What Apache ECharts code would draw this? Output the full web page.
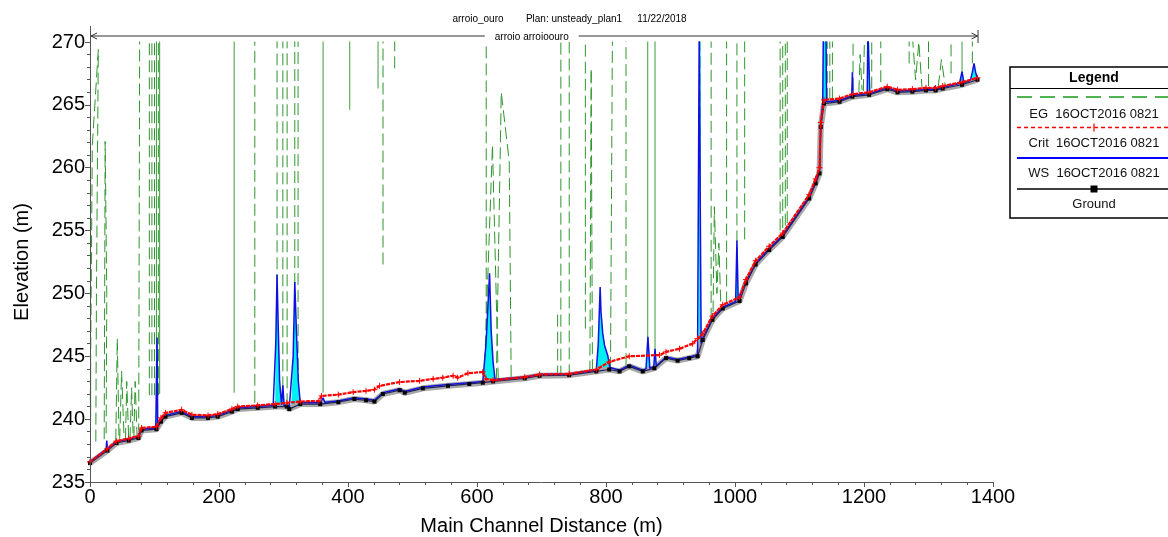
<!DOCTYPE html>
<html><head><meta charset="utf-8">
<script src="https://cdn.jsdelivr.net/npm/echarts@6/dist/echarts.min.js"></script>
<style>html,body{margin:0;padding:0;background:#fff}#c{width:1168px;height:537px}</style>
</head><body><div id="c"></div>
<script>
// ---------- data (distance m, elevation m) ----------
const titleParts = ['arroio_ouro', 'Plan: unsteady_plan1', '11/22/2018'];
const reachLabel = 'arroio arroioouro';
const reachExtent = [0, 1376];
const legendLabels = ['EG  16OCT2016 0821', 'Crit  16OCT2016 0821', 'WS  16OCT2016 0821', 'Ground'];

const ground = [[0,236.5],[27,237.5],[41,238.1],[60,238.3],[75,238.5],[80,239.1],[103,239.2],[110,239.8],[117,240.2],[142,240.5],[158,240.1],[183,240.1],[198,240.2],[220,240.6],[229,240.8],[260,240.9],[287,241.0],[305,241.0],[309,240.8],[326,241.2],[357,241.2],[385,241.35],[410,241.6],[428,241.5],[441,241.4],[454,242.0],[480,242.3],[488,242.1],[516,242.45],[555,242.65],[588,242.8],[609,242.9],[625,243.0],[674,243.25],[697,243.45],[743,243.5],[785,243.8],[805,243.95],[821,243.8],[836,244.2],[857,243.8],[875,244.05],[893,244.85],[911,244.65],[929,244.85],[942,245.0],[950,246.3],[965,247.9],[981,248.8],[1007,249.4],[1017,250.8],[1032,252.3],[1053,253.45],[1074,254.5],[1115,257.55],[1125,258.75],[1131,259.55],[1133,263.25],[1138,265.1],[1162,265.25],[1182,265.65],[1208,265.8],[1236,266.25],[1252,266.0],[1275,266.05],[1296,266.15],[1311,266.15],[1322,266.3],[1352,266.6],[1376,267.0]];

const ws = [[0,236.6],[25,237.6],[26,238.3],[27,237.65],[41,238.2],[60,238.4],[75,238.6],[80,239.2],[102,239.3],[104,246.5],[105,239.4],[110,239.9],[117,240.3],[142,240.6],[158,240.2],[183,240.2],[198,240.3],[220,240.7],[229,240.9],[260,241.0],[284,241.1],[287,241.1],[288,246],[290,251.5],[292,247],[294,243],[297,241.1],[299,242.7],[301,241.05],[305,241.1],[309,240.95],[312,241.05],[315,245],[317.5,250.9],[320,247],[323,243],[326,241.3],[328,241.3],[357,241.3],[359,241.35],[361.4,241.7],[364,241.35],[385,241.45],[410,241.7],[428,241.6],[441,241.5],[454,242.1],[480,242.4],[488,242.2],[516,242.55],[555,242.75],[588,242.9],[609,243.0],[610,243.0],[614,246],[619.5,251.6],[622,247],[625,244.5],[628,243.15],[674,243.35],[697,243.55],[743,243.6],[785,243.9],[788,246],[790.9,250.5],[792.3,248.5],[795,246.8],[797.6,245.9],[803,245.0],[806,244.1],[821,243.9],[836,244.3],[857,243.9],[862,244.0],[865,246.55],[868,244.05],[874,244.15],[876,245.6],[878,244.2],[893,244.95],[911,244.75],[929,244.95],[942,245.1],[943.5,245.15],[944.5,271],[946.5,271],[947.5,246.0],[950,246.4],[965,248.0],[981,248.9],[1001,249.35],[1003,254.2],[1005,249.45],[1007,249.5],[1017,250.9],[1032,252.4],[1053,253.55],[1074,254.6],[1115,257.65],[1125,258.85],[1131,259.65],[1133,263.35],[1136,265.2],[1137,271],[1141,271],[1142,265.25],[1162,265.35],[1181,265.7],[1182,267.6],[1183,265.75],[1205,265.9],[1206,271],[1208,271],[1209,265.9],[1236,266.35],[1252,266.1],[1275,266.15],[1296,266.25],[1308,266.25],[1310,266.5],[1312,266.25],[1322,266.4],[1348,266.7],[1352,267.65],[1355,266.75],[1365,266.95],[1368,267.6],[1370.6,268.3],[1373,267.6],[1376,267.1]];

const crit = [[0,236.6],[27,237.65],[41,238.25],[60,238.45],[75,238.65],[80,239.3],[103,239.4],[110,240.1],[117,240.5],[142,240.75],[158,240.35],[183,240.3],[198,240.4],[220,240.8],[229,241.0],[260,241.1],[287,241.2],[305,241.3],[326,241.4],[355,241.45],[359,241.85],[385,241.95],[408,242.15],[428,242.25],[441,242.35],[449,242.65],[480,242.95],[511,243.05],[532,243.2],[547,243.3],[563,243.45],[570,243.3],[586,243.65],[609,243.75],[614,243.2],[625,243.1],[674,243.35],[697,243.55],[743,243.6],[785,243.95],[805,244.55],[836,245.0],[883,245.1],[893,245.35],[914,245.6],[934,246.0],[942,246.4],[950,246.8],[965,248.2],[981,249.1],[1007,249.7],[1017,251.1],[1032,252.6],[1053,253.75],[1074,254.8],[1115,257.85],[1125,259.1],[1131,260.0],[1133,263.6],[1138,265.4],[1162,265.5],[1182,265.85],[1208,266.0],[1236,266.45],[1252,266.2],[1275,266.25],[1296,266.35],[1311,266.35],[1322,266.5],[1352,266.8],[1376,267.15]];

// EG traces (energy grade line excursions), dashed
const egDashed = [
 [[0.5,241.5],[3.6,261.8],[12.9,269.4],[10,250],[9,238.0]],
 [[22,238.4],[23.5,262.1],[26,249.9],[25,238.6]],
 [[40,238.3],[42.3,246.4],[45,238.3]],
 [[46,238.3],[49,243.8],[53,238.3]],
 [[55,238.35],[57,243.0],[60,238.4]],
 [[62,238.4],[64.6,242.5],[67,238.45]],
 [[68,238.5],[70,243.0],[73,238.55]],
 [[75.5,238.7],[77,271]],
 [[92,241.9],[92,271]],[[96,241.9],[96,271]],[[100,241.9],[100,271]],[[106,241.9],[106,271]],
 [[255.5,241.3],[255.5,271]],
 [[290,241.1],[290,271]],[[299,241.1],[299,271]],[[305.6,241.1],[305.6,271]],[[317.5,241.2],[317.5,271]],[[322.6,241.2],[322.6,271]],
 [[454.3,252.3],[454.3,271]],[[472.4,267.9],[472.4,271]],
 [[614.3,243],[614.3,271]],[[611,243.0],[624,261.8],[633,243.1]],[[630,243.1],[637.6,266],[650,260.5],[653,243.2]],
 [[725,243.3],[725,248.5]],[[730,243.3],[730,271]],[[743,243.4],[743,271]],[[768,247.2],[768,271]],[[775,243.7],[777,267.9],[779,243.7]],
 [[807,244],[810,271]],[[831,244.3],[831,271]],
 [[945.8,246.3],[945.8,271]],[[963,247.9],[963,271]],[[966,248.5],[968,256.9],[972,250],[975,254],[978,249]],[[987,249.2],[987,271]],[[1003,250],[1003,271]],[[1015,254.3],[1015,271]],
 [[1070,255],[1070,271]],[[1074,255.2],[1074,271]],[[1078,255.4],[1078,271]],[[1081,255.6],[1081,271]],
 [[1138,265.4],[1138,271]],[[1143,265.4],[1143,271]],[[1147,265.4],[1147,271]],[[1151,265.5],[1151,271]],
 [[1183,266.2],[1183,271]],
 [[1192,266],[1194,269],[1197,266.2]],[[1199,266.1],[1201,271]],[[1212,266.3],[1212,271]],
 [[1226,266.8],[1226,271]],
 [[1270,268.3],[1270,271]],[[1275,270.5],[1280,267],[1285,270],[1290,266.3]],
 [[1300,266.5],[1300,271]],[[1315,266.4],[1320,268.6],[1326,266.5]],[[1335,267.5],[1335,271]],[[1368,268.3],[1368,271]]
];
// EG traces that render as continuous strokes
const egSolid = [
 [[1,240],[1,244.5]],
 [[103,241.9],[103,271]],[[108,242],[108,271]],
 [[223.5,242.1],[223.5,271]],
 [[361.4,242.1],[361.4,271]],
 [[402.7,264.6],[402.7,271]],
 [[446.6,266.3],[446.6,271]],
 [[864.7,245.3],[864.7,271]],
 [[876,244.2],[876,271]],
 [[1207,266],[1207,271]],
 [[1352,267.6],[1352,271]]
];

// ---------- chart ----------
const FONT = '"Liberation Sans", Arial, sans-serif';
const chart = echarts.init(document.getElementById('c'), null, {renderer: 'canvas'});
const joinTraces = traces => {
  const out = [];
  traces.forEach(t => { t.forEach(p => out.push(p)); out.push([t[0][0], '-']); });
  return out;
};

const gridL = 90, gridR = 175, gridT = 42, gridB = 55;

chart.setOption({
  animation: false,
  backgroundColor: '#fff',
  grid: {left: gridL, right: gridR, top: gridT, bottom: gridB, containLabel: false, outerBoundsMode: 'none'},
  xAxis: {
    type: 'value', min: 0, max: 1400, interval: 200, z: 10,
    name: 'Main Channel Distance (m)', nameLocation: 'middle', nameGap: 34,
    nameTextStyle: {fontFamily: FONT, fontSize: 20, color: '#000'},
    axisLine: {show: true, onZero: false, lineStyle: {color: '#555', width: 1}},
    axisTick: {show: true, length: 5, lineStyle: {color: '#555'}},
    minorTick: {show: true, splitNumber: 5, length: 3, lineStyle: {color: '#555'}},
    splitLine: {show: false},
    axisLabel: {fontFamily: FONT, fontSize: 20, color: '#000', margin: 5, formatter: v => String(v)}
  },
  yAxis: {
    type: 'value', min: 235, max: 270, interval: 5, z: 10,
    name: 'Elevation (m)', nameLocation: 'middle', nameGap: 58, nameRotate: 90,
    nameTextStyle: {fontFamily: FONT, fontSize: 20, color: '#000'},
    axisLine: {show: true, onZero: false, lineStyle: {color: '#555', width: 1}},
    axisTick: {show: true, length: 5, lineStyle: {color: '#555'}},
    minorTick: {show: true, splitNumber: 5, length: 3, lineStyle: {color: '#555'}},
    splitLine: {show: false},
    axisLabel: {fontFamily: FONT, fontSize: 20, color: '#000', margin: 5, formatter: v => String(v)}
  },
  series: [
    {name: 'EG dashed', type: 'line', data: joinTraces(egDashed), z: 1, showSymbol: false, symbol: 'none',
     connectNulls: false, clip: true,
     lineStyle: {color: '#2f952f', width: 1, type: [12, 5]}},
    {name: 'EG solid', type: 'line', data: joinTraces(egSolid), z: 1, showSymbol: false, symbol: 'none',
     connectNulls: false, clip: true,
     lineStyle: {color: '#3c9c3c', width: 1}},
    // cyan water body between WS and ground
    {name: 'WS fill', type: 'custom', data: [0], z: 2, silent: true,
     renderItem: (params, api) => {
       const pts = ws.map(p => api.coord(p)).concat(ground.slice().reverse().map(p => api.coord(p)));
       const cs = params.coordSys;
       return {type: 'polygon', shape: {points: pts},
               style: {fill: '#00f0f0', stroke: null},
               clipPath: {type: 'rect', shape: {x: cs.x, y: cs.y, width: cs.width, height: cs.height}}};
     }},
    {name: 'Ground shadow', type: 'line', data: ground, z: 4, symbol: 'none', clip: true,
     lineStyle: {color: '#a8a8a8', width: 6}},
    {name: 'WS', type: 'line', data: ws, z: 5, symbol: 'none', clip: true,
     lineStyle: {color: '#1010e0', width: 1.5}},
    {name: 'Ground', type: 'line', data: ground, z: 6, symbol: 'rect', symbolSize: 4, showAllSymbol: true, clip: true,
     itemStyle: {color: '#000'},
     lineStyle: {color: '#202060', width: 1.2}},
    {name: 'Crit', type: 'line', data: crit, z: 7, clip: true,
     symbol: 'path://M5,0L5,10M0,5L10,5', symbolSize: 6, showAllSymbol: true,
     itemStyle: {color: '#ff0000', borderColor: '#ff0000', borderWidth: 1},
     lineStyle: {color: '#ff0000', width: 2.2, type: [4, 1]}}
  ]
});

// ---------- decorations (title, reach arrow, legend box) ----------
const pL = chart.convertToPixel({gridIndex: 0}, [reachExtent[0], 270]);
const pR = chart.convertToPixel({gridIndex: 0}, [reachExtent[1], 270]);
const arrowY = 36;
const titleX = [478, 574, 662];
const g = [];
titleParts.forEach((t, i) => g.push({type: 'text', x: titleX[i], y: 19,
  style: {text: t, font: '10px ' + FONT, fill: '#000', align: 'center', verticalAlign: 'middle'}}));
// y axis extension above top tick
g.push({type: 'line', shape: {x1: pL[0] + 0.5, y1: 26, x2: pL[0] + 0.5, y2: pL[1]}, style: {stroke: '#555', lineWidth: 1}, z: 20});
// reach arrow
g.push({type: 'line', shape: {x1: pL[0] + 1, y1: arrowY, x2: pR[0], y2: arrowY}, style: {stroke: '#333', lineWidth: 1}, z: 20});
g.push({type: 'polyline', shape: {points: [[pL[0] + 7, arrowY - 3], [pL[0] + 1, arrowY], [pL[0] + 7, arrowY + 3]]}, style: {stroke: '#333', lineWidth: 1, fill: null}, z: 20});
g.push({type: 'polyline', shape: {points: [[pR[0] - 6, arrowY - 3], [pR[0], arrowY], [pR[0] - 6, arrowY + 3]]}, style: {stroke: '#333', lineWidth: 1, fill: null}, z: 20});
g.push({type: 'line', shape: {x1: pR[0] + 0.5, y1: arrowY - 6, x2: pR[0] + 0.5, y2: arrowY + 7}, style: {stroke: '#333', lineWidth: 1}, z: 20});
g.push({type: 'text', x: (pL[0] + pR[0]) / 2 - 2, y: arrowY + 1, z: 21,
  style: {text: reachLabel, font: '10px ' + FONT, fill: '#000', align: 'center', verticalAlign: 'middle',
          backgroundColor: '#fff', padding: [0, 10]}});

// legend box
const LX = 1010, LY = 67, LW = 170, LH = 151, LC = 1094;
g.push({type: 'rect', shape: {x: LX, y: LY, width: LW, height: LH}, style: {fill: '#fff', stroke: '#000', lineWidth: 1.5}, z: 30});
g.push({type: 'line', shape: {x1: LX, y1: 88.5, x2: LX + LW, y2: 88.5}, style: {stroke: '#000', lineWidth: 1.2}, z: 31});
g.push({type: 'text', x: LC, y: 78, z: 31, style: {text: 'Legend', font: 'bold 14px ' + FONT, fill: '#000', align: 'center', verticalAlign: 'middle'}});
const rowY = [97, 127.5, 158, 189];
const textY = [114, 143, 173, 204];
g.push({type: 'line', shape: {x1: 1017, y1: rowY[0], x2: 1168, y2: rowY[0]}, style: {stroke: '#1a9a1a', lineWidth: 1.5, lineDash: [15, 8]}, z: 31});
g.push({type: 'line', shape: {x1: 1017, y1: rowY[1], x2: 1168, y2: rowY[1]}, style: {stroke: '#ff0000', lineWidth: 1.5, lineDash: [4, 3]}, z: 31});
g.push({type: 'line', shape: {x1: LC, y1: rowY[1] - 4, x2: LC, y2: rowY[1] + 4}, style: {stroke: '#ff0000', lineWidth: 1.2}, z: 31});
g.push({type: 'line', shape: {x1: 1017, y1: rowY[2], x2: 1168, y2: rowY[2]}, style: {stroke: '#0000ff', lineWidth: 1.8}, z: 31});
g.push({type: 'line', shape: {x1: 1017, y1: rowY[3], x2: 1168, y2: rowY[3]}, style: {stroke: '#000', lineWidth: 1.5}, z: 31});
g.push({type: 'rect', shape: {x: LC - 3.5, y: rowY[3] - 3.5, width: 7, height: 7}, style: {fill: '#000'}, z: 31});
legendLabels.forEach((t, i) => g.push({type: 'text', x: LC, y: textY[i], z: 31,
  style: {text: t, font: '13px ' + FONT, fill: '#111', align: 'center', verticalAlign: 'middle'}}));

chart.setOption({graphic: g});
</script></body></html>
